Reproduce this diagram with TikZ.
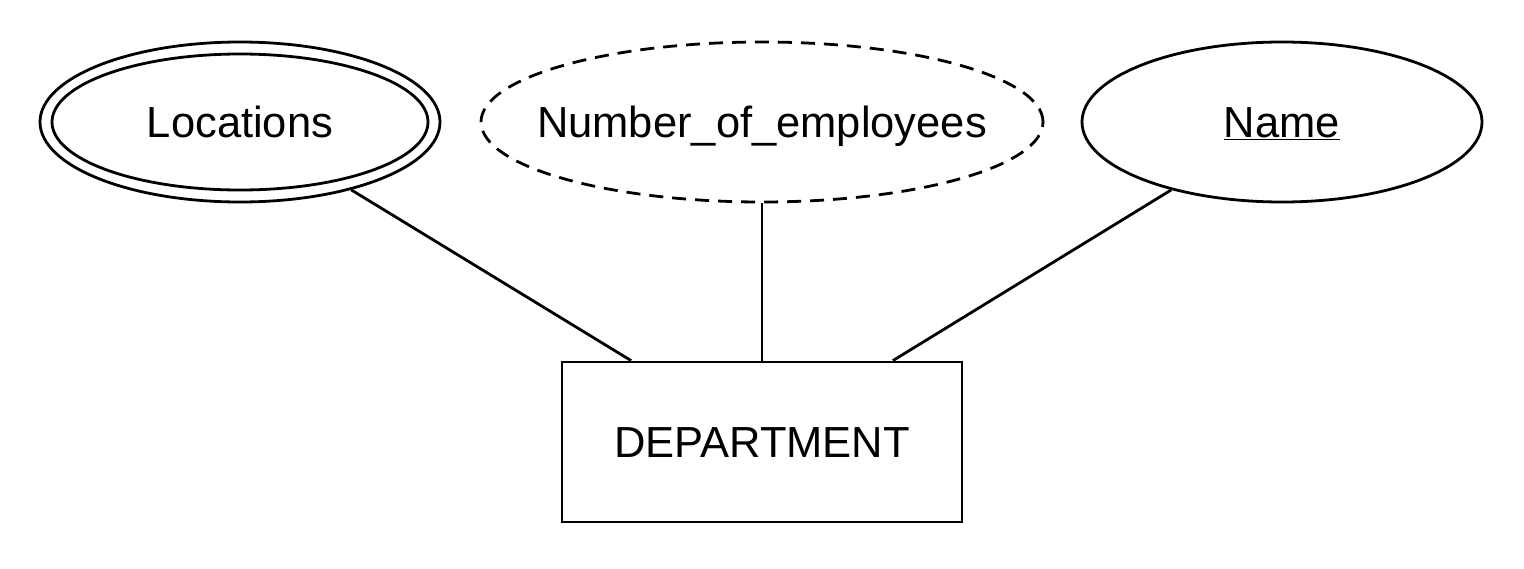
\documentclass[tikz,border=0pt]{standalone}
\usepackage{fontspec}
\setmainfont{Liberation Sans}
\usetikzlibrary{shapes.geometric,calc}
\begin{document}
\begin{tikzpicture}[x=1pt,y=-1pt,
  every node/.style={font=\fontsize{43.5}{52}\selectfont, inner sep=0pt, text height=31pt, text depth=0pt},
  attr/.style={draw, line width=2.8pt, ellipse, minimum width=400pt, minimum height=160pt},
  entity/.style={draw, line width=2.8pt, rectangle, minimum width=400pt, minimum height=160pt},
  conn/.style={line width=2.8pt}]
\useasboundingbox (0,0) rectangle (1524,568);
\node[attr] (loc) at (240,122) {\makebox[0pt]{Locations}};
\node[draw, line width=2.8pt, ellipse, minimum width=376pt, minimum height=136pt] (locin) at (loc) {};
\node[attr, dash pattern=on 14pt off 9pt, minimum width=562pt] (num) at (762,122) {\makebox[0pt]{Number\_of\_employees}};
\node[attr] (name) at (1282,122) {\makebox[0pt]{\underline{Name}}};
\node[entity] (dept) at (762,442) {DEPARTMENT};
\coordinate (dl) at ($(dept.north west)!0.175!(dept.north east)$);
\coordinate (dr) at ($(dept.north west)!0.825!(dept.north east)$);
\draw[conn] (loc) -- (dl);
\draw[conn] (num) -- (dept);
\draw[conn] (name) -- (dr);
\end{tikzpicture}
\end{document}
